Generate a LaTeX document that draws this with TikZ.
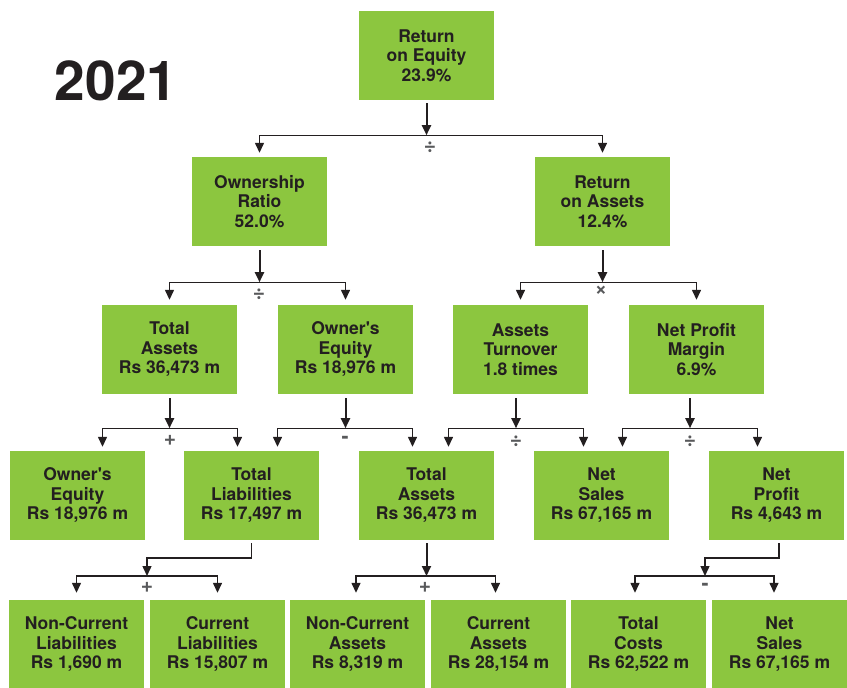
\documentclass[tikz,border=0pt]{standalone}
\usepackage{fontspec}
\setmainfont{TeX Gyre Heros}
\usetikzlibrary{arrows.meta}
\definecolor{boxgreen}{HTML}{8CC63F}
\definecolor{inkdark}{HTML}{231F20}
\definecolor{opgray}{HTML}{58595B}
\tikzset{
  box/.style={fill=boxgreen, minimum width=135pt, minimum height=89pt, inner sep=0pt, align=center, text=inkdark, font=\fontsize{17.5}{19.5}\selectfont\bfseries},
  link/.style={draw=inkdark, line width=1.4pt, -{Triangle[length=10pt,width=9pt]}},
  stemlink/.style={link, line width=2pt},
  op/.style={text=opgray, inner sep=0pt, font=\fontsize{21}{21}\selectfont\bfseries}
}
\newcommand{\apos}{\textquotesingle}

\begin{document}
\begin{tikzpicture}[x=1pt,y=-1pt]
\useasboundingbox (0,0) rectangle (847,688);
\node[text=inkdark, font=\fontsize{55}{55}\selectfont\bfseries] (year) at (116,81) {2021};

\node[box] (roe) at (426.5,55.5) {Return\\on Equity\\23.9\%};

\node[box] (own) at (259.5,201.5) {Ownership\\Ratio\\52.0\%};
\node[box] (roa) at (602.5,201.5) {Return\\on Assets\\12.4\%};

\node[box] (ta) at (169.5,349.5) {Total\\Assets\\Rs 36,473 m};
\node[box] (oe) at (345.5,349.5) {Owner\apos s\\Equity\\Rs 18,976 m};
\node[box] (at) at (520.5,349.5) {Assets\\Turnover\\1.8 times};
\node[box] (npm) at (696.5,349.5) {Net Profit\\Margin\\6.9\%};

\node[box] (oe2) at (77.5,495.5) {Owner\apos s\\Equity\\Rs 18,976 m};
\node[box] (tl) at (251.5,495.5) {Total\\Liabilities\\Rs 17,497 m};
\node[box] (ta2) at (426.5,495.5) {Total\\Assets\\Rs 36,473 m};
\node[box] (ns) at (601.5,495.5) {Net\\Sales\\Rs 67,165 m};
\node[box] (np) at (776.5,495.5) {Net\\Profit\\Rs 4,643 m};

\node[box] (ncl) at (76.5,644.5) {Non-Current\\Liabilities\\Rs 1,690 m};
\node[box] (cl) at (217.5,644.5) {Current\\Liabilities\\Rs 15,807 m};
\node[box] (nca) at (357.5,644.5) {Non-Current\\Assets\\Rs 8,319 m};
\node[box] (ca) at (498.5,644.5) {Current\\Assets\\Rs 28,154 m};
\node[box] (tc) at (638.5,644.5) {Total\\Costs\\Rs 62,522 m};
\node[box] (ns2) at (779.5,644.5) {Net\\Sales\\Rs 67,165 m};

\coordinate (j1) at ([yshift=-35pt]roe.south);
\coordinate (j2a) at ([yshift=-36pt]own.south);
\coordinate (j2b) at ([yshift=-36pt]roa.south);
\coordinate (j3a) at ([yshift=-34pt]ta.south);
\coordinate (j3b) at ([yshift=-34pt]oe.south);
\coordinate (j3c) at ([xshift=-4.5pt,yshift=-34pt]at.south);
\coordinate (j3d) at ([xshift=-6.5pt,yshift=-34pt]npm.south);
\coordinate (b4a) at (147,558); \coordinate (j4a) at (147,576);
\coordinate (j4b) at (426.5,576);
\coordinate (b4c) at (705,558); \coordinate (j4c) at (705,576);

\draw[stemlink] ([yshift=-3pt]roe.south) -- (j1);
\draw[link] (j1) -| ([yshift=4pt]own.north); \draw[link] (j1) -| ([yshift=4pt]roa.north);

\draw[stemlink] ([yshift=-4pt]own.south) -- (j2a);
\draw[link] (j2a) -| ([yshift=5pt]ta.north); \draw[link] (j2a) -| ([yshift=5pt]oe.north);
\draw[stemlink] ([yshift=-4pt]roa.south) -- (j2b);
\draw[link] (j2b) -| ([yshift=5pt]at.north); \draw[link] (j2b) -| ([yshift=5pt]npm.north);

\draw[stemlink] ([yshift=-4pt]ta.south) -- (j3a);
\draw[link] (j3a) -| ([xshift=25pt,yshift=4pt]oe2.north); \draw[link] (j3a) -| ([xshift=-14pt,yshift=4pt]tl.north);
\draw[stemlink] ([yshift=-4pt]oe.south) -- (j3b);
\draw[link] (j3b) -| ([xshift=26pt,yshift=4pt]tl.north); \draw[link] (j3b) -| ([xshift=-14pt,yshift=4pt]ta2.north);
\draw[stemlink] ([yshift=-4pt]at.south -| j3c) -- (j3c);
\draw[link] (j3c) -| ([xshift=22pt,yshift=4pt]ta2.north); \draw[link] (j3c) -| ([xshift=-18pt,yshift=4pt]ns.north);
\draw[stemlink] ([yshift=-4pt]npm.south -| j3d) -- (j3d);
\draw[link] (j3d) -| ([xshift=21pt,yshift=4pt]ns.north); \draw[link] (j3d) -| ([xshift=-19pt,yshift=4pt]np.north);

\draw[link] ([yshift=-3pt]tl.south) |- (b4a) -- (j4a);
\draw[link] (j4a) -| ([yshift=7pt]ncl.north); \draw[link] (j4a) -| ([yshift=7pt]cl.north);
\draw[stemlink] ([yshift=-3pt]ta2.south) -- (j4b);
\draw[link] (j4b) -| ([xshift=-1.5pt,yshift=7pt]nca.north); \draw[link] (j4b) -| ([xshift=-3pt,yshift=7pt]ca.north);
\draw[link] ([xshift=2.5pt,yshift=-3pt]np.south) |- (b4c) -- (j4c);
\draw[link] (j4c) -| ([xshift=-3.5pt,yshift=7pt]tc.north); \draw[link] (j4c) -| ([xshift=-5.5pt,yshift=7pt]ns2.north);

\node[op] (op1) at (430,147) {÷};
\node[op] (op2a) at (259,294) {÷};
\node[op] (op2b) at (601,291) {×};
\node[op] (op3a) at (170,440) {+};
\node[op] (op3b) at (345,440) {-};
\node[op] (op3c) at (516,441) {÷};
\node[op] (op3d) at (690,441) {÷};
\node[op] (op4a) at (147,587) {+};
\node[op] (op4b) at (425,587) {+};
\node[op] (op4c) at (705,587) {-};
\end{tikzpicture}
\end{document}
